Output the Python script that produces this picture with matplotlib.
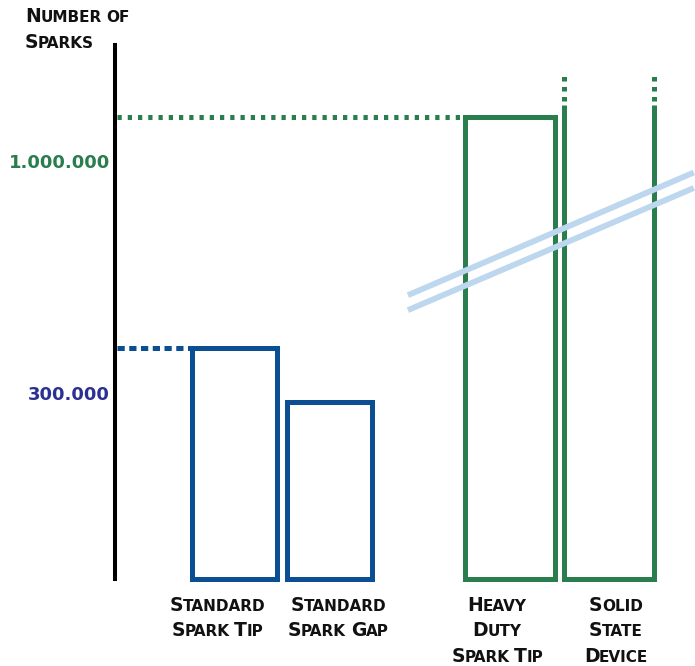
import numpy as np
import matplotlib
matplotlib.use('Agg')
import matplotlib.pyplot as plt

# data
categories = ['Standard\nSpark Tip', 'Standard\nSpark Gap', 'Heavy\nDuty\nSpark Tip', 'Solid\nState\nDevice']
sparks = [300000, 230000, 1000000, np.nan]   # solid state goes off the scale
tick_values = [300000, 1000000]
tick_labels = ['300.000', '1.000.000']

BLUE = '#0c4e92'
GREEN = '#2a7d4c'
NAVY = '#2b3190'
BREAK = '#bdd7ee'
bar_colors = [BLUE, BLUE, GREEN, GREEN]
tick_colors = [NAVY, GREEN]

W, H = 695, 666
fig = plt.figure(figsize=(W / 100, H / 100), dpi=100)
ax = fig.add_axes([115 / W, (H - 578.5) / H, 580 / W, 533.5 / H])

# broken y scale: the part above 300.000 is squeezed
k1 = 230.5 / 300000
k2 = 231.0 / 700000


def fwd(v):
    v = np.asarray(v, dtype=float)
    return np.where(v <= 300000, v * k1, 230.5 + (v - 300000) * k2)


def inv(p):
    p = np.asarray(p, dtype=float)
    return np.where(p <= 230.5, p / k1, 300000 + (p - 230.5) / k2)


ax.set_yscale('function', functions=(fwd, inv))
ax.set_ylim(0, float(inv(533.5)))

pos = [0, 1, 2.9, 3.95]
widths = [85 / 95, 85 / 95, 90 / 95, 90 / 95]
x_left = (115 - 234) / 95
ax.set_xlim(x_left, x_left + 580 / 95)

lw = 3.6
for p, w, v, c in zip(pos, widths, sparks, bar_colors):
    if np.isnan(v):
        # open-topped bar with dotted continuation
        top, d0, d1 = 1.036e6, 1.05e6, 1.13e6
        ax.plot([p - w / 2, p - w / 2, p + w / 2, p + w / 2], [top, 0, 0, top],
                color=c, lw=lw, solid_joinstyle='miter', solid_capstyle='butt', clip_on=False)
        for xx in (p - w / 2, p + w / 2):
            ax.plot([xx, xx], [d0, d1], color=c, lw=lw, dashes=(0.9, 1.1),
                    dash_capstyle='butt', clip_on=False)
    else:
        ax.bar(p, v, width=w, facecolor='white', edgecolor=c, linewidth=lw,
               clip_on=False, zorder=2)

# dotted reference lines to the axis
ax.plot([x_left + 2 / 95, pos[0] - widths[0] / 2], [sparks[0]] * 2, color=BLUE,
        lw=lw, dashes=(1.45, 0.9), dash_capstyle='butt', zorder=1)
ax.plot([x_left + 2 / 95, pos[2] - widths[2] / 2], [sparks[2]] * 2, color=GREEN,
        lw=lw, dashes=(0.85, 1.2), dash_capstyle='butt', zorder=1)

for v, lab, c in zip(tick_values, tick_labels, tick_colors):
    ax.annotate(lab, xy=(0, v), xycoords=('axes fraction', 'data'),
                xytext=(-5, -51.5), textcoords='offset pixels',
                ha='right', va='baseline', fontsize=13, fontweight='bold', color=c)

# axis break marks
for y0, y1 in ((0.531, 0.761), (0.503, 0.732)):
    ax.plot([0.505, 0.998], [y0, y1], transform=ax.transAxes, color=BREAK,
            lw=4.2, solid_capstyle='butt', zorder=5, clip_on=False)

for s in ['top', 'right', 'bottom']:
    ax.spines[s].set_visible(False)
ax.spines['left'].set_linewidth(2.9)
ax.spines['left'].set_color('black')
ax.set_xticks([])
ax.set_yticks([])
ax.patch.set_visible(False)

# small caps text
BIG, SMALL = 13.5, 11
renderer = fig.canvas.get_renderer()


def runs_of(s):
    runs = []
    for ch in s:
        if ch == ' ':
            runs.append((' ', None))
            continue
        size = BIG if ch.isupper() else SMALL
        if runs and runs[-1][1] == size:
            runs[-1] = (runs[-1][0] + ch.upper(), size)
        else:
            runs.append((ch.upper(), size))
    return runs


def small_caps(x, y, s, ha='left', color='#111111'):
    items = []
    total = 0
    for txt, size in runs_of(s):
        if size is None:
            items.append((None, 5.5))
        else:
            t = fig.text(0, 0, txt, fontsize=size, fontweight='bold', color=color,
                         ha='left', va='baseline')
            items.append((t, t.get_window_extent(renderer).width - 0.5))
        total += items[-1][1]
    x0 = x - total / 2 if ha == 'center' else x
    for t, w in items:
        if t is not None:
            t.set_position((x0 / W, y / H))
        x0 += w


small_caps(25, H - 22, 'Number of')
small_caps(25, H - 48, 'Sparks')

label_shift = [-17, 9, -12.5, 6.5]
for p, lab, dx in zip(pos, categories, label_shift):
    xb, yb = ax.transData.transform((p, 0))
    for i, line in enumerate(lab.split('\n')):
        small_caps(xb + dx, yb - 32.5 - 25.5 * i, line, ha='center')

fig.savefig('out.png', dpi=100)
